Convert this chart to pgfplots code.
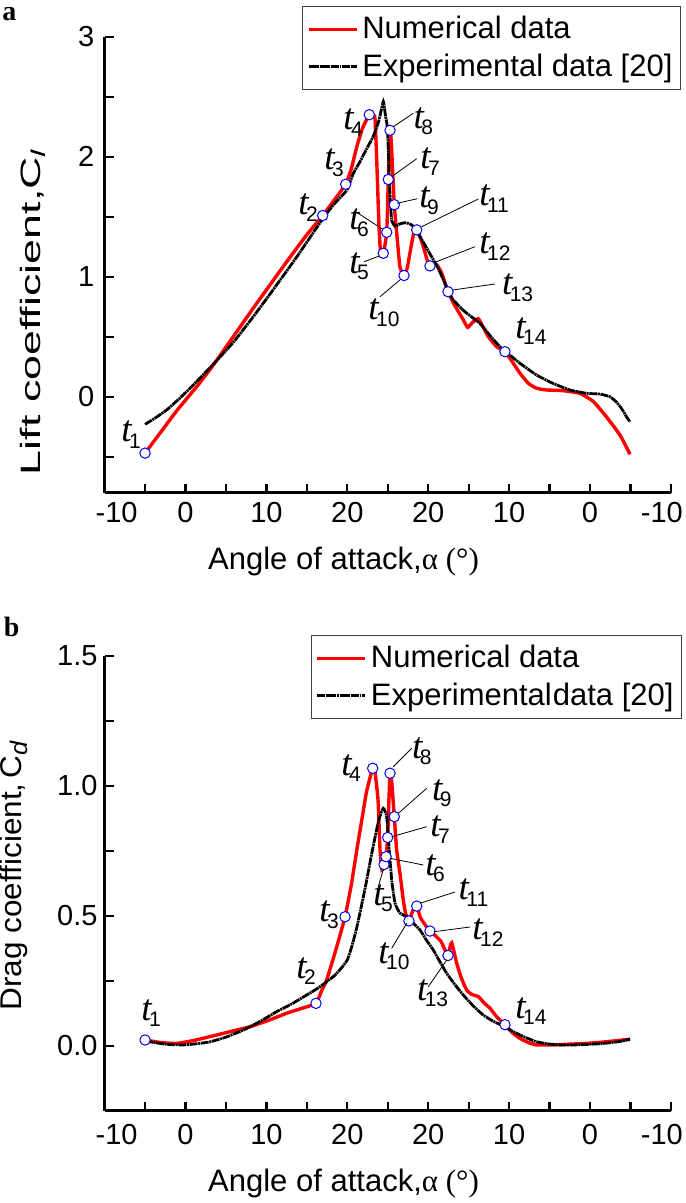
\documentclass[border=0pt]{standalone}
\usepackage{fontspec}
\setmainfont{Liberation Sans}
\newfontfamily\serif{Liberation Serif}
\usepackage{graphicx}
\usepackage{pgfplots}
\pgfplotsset{compat=1.18}

\newcommand{\tlab}[1]{{\fontsize{18.5}{18.5}\serif\itshape t}\kern-1.3pt\raisebox{-3.3pt}{\fontsize{10.5}{11}\selectfont #1}}

\pgfplotsset{
 panel/.style={
  scale only axis, width=283.15pt,
  xmin=0, xmax=70,
  axis x line*=bottom, axis y line*=left,
  axis line style={line width=1.3pt,-},
  tick align=inside, major tick length=4.5pt,
  tick style={black, line width=1.1pt},
  xtick={0,5,...,70},
  xticklabels={{-10\hspace*{-12pt}},,0,,10,,20,,20,,10,,0,,{\hspace*{-9pt}-10}},
  tick label style={font=\fontsize{14.5}{16}\selectfont},
  legend cell align=left,
  legend image code/.code={\draw[##1] (0pt,0pt) -- (24pt,0pt);},
  legend style={draw=black!75, line width=0.5pt, font=\fontsize{15.5}{18}\selectfont,
    inner xsep=2pt, inner ysep=3pt, row sep=2pt,
    /tikz/every even column/.append style={column sep=2pt}, anchor=north east},
 },
 numstyle/.style={red, line width=1.7pt, smooth, tension=0.3},
 expstyle/.style={black, line width=1.4pt, dash pattern=on 4pt off 0.35pt on 0.9pt off 0.35pt, smooth, tension=0.3},
 tmarks/.style={only marks, mark=*, mark size=2.6pt, mark options={draw=blue, line width=0.5pt, fill=white}}
}

\begin{document}
\begin{tikzpicture}
\useasboundingbox (0,0) rectangle (342.5pt,-601.5pt);

% ---------------- panel a ----------------
\begin{axis}[panel, at={(52.3pt,-246.35pt)}, anchor=south west, height=228pt,
  ymin=-0.8, ymax=3,
  ytick={-0.5,0,0.5,1,1.5,2,2.5,3}, yticklabels={,0,,1,,2,,3},
  xticklabel style={yshift=-1.2pt}, yticklabel style={xshift=-1.7pt},
  legend style={at={(axis description cs:1.0178,1.0673)}},
  xlabel={Angle of attack,{\serif α (°)}},
  ylabel={\scalebox{1.6}[1]{\fontsize{14}{16}\selectfont Lift coefficient,C\raisebox{-0.35ex}{\fontsize{10}{10}\selectfont\itshape l}}},
  every axis x label/.style={at={(axis description cs:0.422,-0.151)},anchor=center,font=\fontsize{15.5}{18}\selectfont},
  every axis y label/.style={at={(axis description cs:-0.1264,0.395)},anchor=center,rotate=90}]
\addplot[numstyle] coordinates {
(5.0,-0.47) (7.0,-0.29) (9.0,-0.11) (11.58,0.10) (13.5,0.27) (15.9,0.50) (18.4,0.74)
(20.85,0.97) (23.0,1.17) (25.0,1.35) (26.96,1.51) (28.4,1.64) (29.8,1.77) (30.5,1.90)
(31.16,2.08) (31.9,2.24) (32.72,2.35) (33.1,2.35) (33.42,2.32) (33.65,1.95) (33.9,1.45)
(34.1,1.22) (34.45,1.195) (34.87,1.37) (35.07,1.81) (35.28,2.22) (35.45,2.10) (35.81,1.60)
(36.18,1.31) (36.51,1.08) (37.01,1.01) (37.4,1.07) (37.75,1.20) (38.2,1.36) (38.58,1.39)
(39.0,1.33) (39.4,1.25) (40.0,1.11) (40.22,1.09) (40.7,1.10) (41.05,1.10) (41.67,1.03)
(42.45,0.875) (43.2,0.77) (44.34,0.64) (44.88,0.578) (45.5,0.62) (46.19,0.65) (46.8,0.58)
(47.43,0.50) (48.47,0.417) (49.49,0.375) (50.4,0.29) (51.35,0.195) (52.4,0.11) (53.41,0.07)
(54.65,0.056) (56.7,0.05) (58.76,0.028) (60.41,-0.04) (62.06,-0.17) (63.71,-0.32) (64.95,-0.48)
};
\addlegendentry{Numerical data}
\addplot[expstyle] coordinates {
(5.0,-0.23) (6.2,-0.18) (7.68,-0.11) (9.5,0.00) (11.58,0.14) (13.7,0.29) (15.87,0.45)
(18.3,0.66) (20.82,0.89) (23.7,1.16) (26.63,1.45) (28.3,1.60) (29.93,1.72) (30.74,1.86)
(31.5,1.95) (32.19,2.04) (33.21,2.17) (33.9,2.30) (34.45,2.46) (34.7,2.35) (34.94,2.25)
(35.1,2.00) (35.19,1.81) (35.35,1.60) (35.49,1.47) (35.9,1.42) (36.5,1.44) (37.13,1.45)
(37.7,1.44) (38.16,1.42) (39.2,1.31) (40.22,1.19) (41.3,1.06) (42.42,0.89) (43.1,0.806)
(44.5,0.71) (46.4,0.61) (48.0,0.48) (49.49,0.375) (50.4,0.33) (51.35,0.278) (53.41,0.18)
(55.46,0.11) (57.52,0.056) (59.59,0.028) (61.22,0.022) (62.46,0.00) (63.2,-0.04) (63.7,-0.08)
(64.2,-0.13) (64.54,-0.17) (64.95,-0.21)
};
\addlegendentry{Experimental data [20]}
\addplot[tmarks, forget plot] coordinates {
(5.0,-0.47) (26.96,1.51) (29.8,1.77) (32.72,2.35) (34.45,1.195) (34.87,1.37) (35.07,1.81)
(35.28,2.22) (35.81,1.60) (37.01,1.01) (38.58,1.39) (40.22,1.09) (42.45,0.875) (49.49,0.375)
};
\end{axis}

% ---------------- panel b ----------------
\begin{axis}[panel, at={(52.3pt,-555.35pt)}, anchor=south west, height=227.5pt,
  ymin=-0.25, ymax=1.5,
  ytick={0,0.25,0.5,0.75,1,1.25,1.5}, yticklabels={0.0,,0.5,,1.0,,1.5},
  xticklabel style={yshift=-3pt}, yticklabel style={xshift=0pt},
  legend style={at={(axis description cs:1.0196,1.0455)}},
  xlabel={Angle of attack,{\serif α (°)}},
  ylabel={\scalebox{1.05}[1]{\fontsize{15}{17}\selectfont Drag coefficient,\,C\raisebox{-0.35ex}{\fontsize{12}{12}\selectfont\itshape d}}},
  every axis x label/.style={at={(axis description cs:0.422,-0.16)},anchor=center,font=\fontsize{15.5}{18}\selectfont},
  every axis y label/.style={at={(axis description cs:-0.16,0.516)},anchor=center,rotate=90}]
\addplot[numstyle] coordinates {
(5.0,0.022) (7.0,0.012) (8.91,0.009) (11.0,0.02) (13.03,0.035) (15.5,0.054) (17.97,0.073)
(20.3,0.098) (22.51,0.125) (24.3,0.143) (26.13,0.163) (26.8,0.21) (27.45,0.253) (28.69,0.38)
(29.72,0.496) (30.5,0.62) (31.16,0.75) (31.8,0.87) (32.4,0.98) (33.14,1.067) (33.39,1.06)
(33.8,0.945) (34.05,0.75) (34.29,0.676) (34.54,0.697) (34.79,0.727) (34.99,0.801) (35.15,0.95)
(35.28,1.048) (35.45,1.03) (35.81,0.881) (36.1,0.753) (36.51,0.663) (36.92,0.56) (37.2,0.51)
(37.62,0.48) (38.1,0.52) (38.58,0.537) (38.99,0.496) (39.5,0.47) (40.22,0.441) (41.0,0.42)
(41.6,0.40) (42.05,0.37) (42.45,0.347) (42.7,0.38) (42.9,0.396) (43.2,0.36) (43.52,0.317)
(44.1,0.26) (44.76,0.214) (45.4,0.197) (46.19,0.189) (46.9,0.165) (47.64,0.144) (48.5,0.11)
(49.49,0.081) (50.4,0.05) (51.35,0.028) (52.4,0.012) (53.41,0.003) (55.46,0.003) (57.5,0.006)
(59.59,0.009) (61.3,0.013) (62.88,0.018) (64.95,0.025)
};
\addlegendentry{Numerical data}
\addplot[expstyle] coordinates {
(5.0,0.018) (7.5,0.006) (9.73,0.003) (11.5,0.008) (13.03,0.015) (15.0,0.033) (17.14,0.06)
(19.2,0.093) (21.27,0.131) (23.2,0.162) (24.98,0.195) (26.3,0.22) (27.45,0.246) (28.5,0.272)
(29.3,0.30) (30.0,0.33) (30.54,0.38) (31.1,0.445) (31.56,0.51) (32.0,0.575) (32.4,0.637)
(32.9,0.72) (33.42,0.80) (33.9,0.87) (34.45,0.913) (34.87,0.88) (35.19,0.75) (35.49,0.637)
(35.9,0.548) (36.51,0.51) (37.34,0.496) (38.2,0.47) (38.99,0.445) (39.8,0.405) (40.63,0.368)
(41.5,0.32) (42.29,0.278) (43.3,0.235) (44.34,0.195) (45.6,0.152) (46.81,0.118) (48.1,0.093)
(49.49,0.073) (50.4,0.056) (51.35,0.041) (52.4,0.027) (53.41,0.015) (54.8,0.007) (56.29,0.003)
(58.0,0.003) (59.59,0.005) (61.3,0.008) (62.88,0.013) (64.0,0.018) (64.95,0.025)
};
\addlegendentry{Experimental\hspace{0.5pt}data [20]}
\addplot[tmarks, forget plot] coordinates {
(5.0,0.022) (26.13,0.163) (29.72,0.496) (33.14,1.067) (34.54,0.697) (34.79,0.727) (34.99,0.801)
(35.28,1.048) (35.81,0.881) (37.62,0.48) (38.58,0.537) (40.22,0.441) (42.45,0.347) (49.49,0.081)
};
\end{axis}

% ---------------- annotations (pixel grid of the reference) ----------------
\begin{scope}[x=0.5pt,y=-0.5pt]
\node[anchor=base west,inner sep=0,font=\fontsize{14}{14}\serif\bfseries] at (2,21) {a};
\node[anchor=base west,inner sep=0,font=\fontsize{14}{14}\serif\bfseries] at (3.5,636.7) {b};
% panel a labels
\node[anchor=base west,inner sep=0] at (121,441.7) {\tlab{1}};
\node[anchor=base west,inner sep=0] at (298,215) {\tlab{2}};
\node[anchor=base west,inner sep=0] at (324,170) {\tlab{3}};
\node[anchor=base west,inner sep=0] at (343,130) {\tlab{4}};
\node[anchor=base west,inner sep=0] at (349,273.3) {\tlab{5}};
\node[anchor=base west,inner sep=0] at (349,230) {\tlab{6}};
\node[anchor=base west,inner sep=0] at (420,169) {\tlab{7}};
\node[anchor=base west,inner sep=0] at (413.3,128.3) {\tlab{8}};
\node[anchor=base west,inner sep=0] at (419,208) {\tlab{9}};
\node[anchor=base west,inner sep=0] at (368,320) {\tlab{10}};
\node[anchor=base west,inner sep=0] at (479,206) {\tlab{11}};
\node[anchor=base west,inner sep=0] at (479,254) {\tlab{12}};
\node[anchor=base west,inner sep=0] at (501.7,295) {\tlab{13}};
\node[anchor=base west,inner sep=0] at (515,338.3) {\tlab{14}};
\begin{scope}[line width=0.4pt]
\draw (393.3,126.7)--(413.3,113.3);
\draw (391.7,176.7)--(416.7,158.7);
\draw (397.3,203.3)--(417.3,198.7);
\draw (357.3,212.7)--(382.7,229.3);
\draw (364,261.7)--(379.3,256);
\draw (380,296.7)--(400.7,279.3);
\draw (421.7,226.7)--(478.3,199);
\draw (434,262.7)--(475,246.7);
\draw (452.7,290)--(495,284);
\end{scope}
% panel b labels
\node[anchor=base west,inner sep=0] at (141,1020) {\tlab{1}};
\node[anchor=base west,inner sep=0] at (296,978.3) {\tlab{2}};
\node[anchor=base west,inner sep=0] at (319,921.7) {\tlab{3}};
\node[anchor=base west,inner sep=0] at (341,775) {\tlab{4}};
\node[anchor=base west,inner sep=0] at (373,905) {\tlab{5}};
\node[anchor=base west,inner sep=0] at (425,875) {\tlab{6}};
\node[anchor=base west,inner sep=0] at (430,836.7) {\tlab{7}};
\node[anchor=base west,inner sep=0] at (411.7,758.3) {\tlab{8}};
\node[anchor=base west,inner sep=0] at (431.7,800) {\tlab{9}};
\node[anchor=base west,inner sep=0] at (378,963.3) {\tlab{10}};
\node[anchor=base west,inner sep=0] at (458.3,899.5) {\tlab{11}};
\node[anchor=base west,inner sep=0] at (472,939.5) {\tlab{12}};
\node[anchor=base west,inner sep=0] at (416.7,1000) {\tlab{13}};
\node[anchor=base west,inner sep=0] at (515,1018.3) {\tlab{14}};
\begin{scope}[line width=0.4pt]
\draw (393.3,766.7)--(411.7,748.3);
\draw (398.3,813.3)--(426.7,788.3);
\draw (391.7,836.7)--(426.7,826.7);
\draw (390,858.3)--(423.3,865);
\draw (383.3,869.3)--(378.3,886.7);
\draw (420,903.3)--(455,892);
\draw (434,931.7)--(470,927);
\draw (406.7,923.3)--(391.7,948.3);
\draw (446.7,960)--(428.3,986.7);
\end{scope}
\end{scope}
\end{tikzpicture}
\end{document}
